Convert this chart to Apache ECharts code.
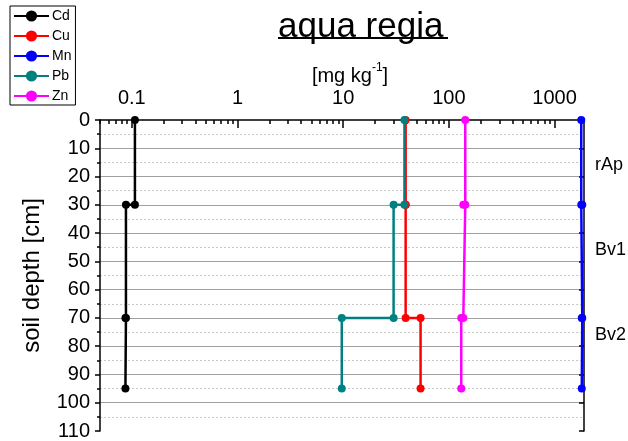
<!DOCTYPE html>
<html>
<head>
<meta charset="utf-8">
<script src="https://cdn.jsdelivr.net/npm/echarts@6/dist/echarts.min.js"></script>
<style>
  html, body { margin: 0; padding: 0; background: #fff; }
  #chart { width: 628px; height: 441px; }
</style>
</head>
<body>
<div id="chart"></div>
<script>
// Sampling depths of each profile point [cm]: top and bottom of every horizon
const depths = [0, 30, 30, 70, 70, 95];

// Element contents per horizon (rAp, Bv1, Bv2) in mg/kg, aqua regia extract
const elements = ['Cd', 'Cu', 'Mn', 'Pb', 'Zn'];
const cd = [0.107, 0.088, 0.087];
const cu = [39, 39, 54];
const mn = [1790, 1830, 1810];
const pb = [38, 30, 9.7];
const zn = [143, 137, 131];
const colors = ['#000000', '#ff0000', '#0000ff', '#008080', '#ff00ff'];

// Horizon names and the depth at which each name is printed
const horizons = ['rAp', 'Bv1', 'Bv2'];
const horizonLabelDepths = [16, 46, 76];

// Concentration axis ticks
const xMajorTicks = [0.1, 1, 10, 100, 1000];
const xTickLabels = ['0.1', '1', '10', '100', '1000'];
const xMinorTicks = [];
[0.01, 0.1, 1, 10, 100, 1000].forEach(function (d) {
  for (let k = 2; k <= 9; k++) xMinorTicks.push(d * k);
});

// Turn three horizon values into a stepped depth profile
function profile(vals) {
  return depths.map(function (d, i) {
    return [vals[Math.floor(i / 2)], d];
  });
}

const seriesValues = [cd, cu, mn, pb, zn];

const chart = echarts.init(document.getElementById('chart'), null, { renderer: 'canvas' });

const xMin = 0.05, xMax = 1900;
const font = 'Arial, "Liberation Sans", sans-serif';

const option = {
  animation: false,
  textStyle: { fontFamily: font },
  legend: {
    orient: 'vertical',
    left: 10,
    top: 6,
    padding: [3, 4, 2, 3],
    itemGap: 6,
    itemWidth: 35,
    itemHeight: 14,
    borderColor: '#000',
    borderWidth: 1,
    textStyle: { fontSize: 14, color: '#000', padding: [0, 0, 0, -2] },
    data: elements
  },
  grid: { left: 100, top: 120, right: 44, bottom: 10 },
  xAxis: [
    {
      type: 'log',
      logBase: 10,
      min: xMin,
      max: xMax,
      position: 'top',
      axisLine: { show: true, lineStyle: { color: '#000', width: 1.5 } },
      axisTick: { show: true, inside: true, length: 8, customValues: xMajorTicks, lineStyle: { color: '#000', width: 1.5 } },
      axisLabel: {
        show: true,
        customValues: xMajorTicks,
        fontSize: 20,
        color: '#000',
        margin: 12,
        formatter: function (v) {
          let best = 0;
          xMajorTicks.forEach(function (t, i) {
            if (Math.abs(Math.log10(t) - Math.log10(v)) < Math.abs(Math.log10(xMajorTicks[best]) - Math.log10(v))) best = i;
          });
          return xTickLabels[best];
        }
      },
      splitLine: { show: false }
    },
    {
      type: 'log',
      logBase: 10,
      min: xMin,
      max: xMax,
      position: 'top',
      axisLine: { show: false },
      axisTick: { show: true, inside: true, length: 4, customValues: xMinorTicks.filter(function (t) { return t >= xMin && t <= xMax; }), lineStyle: { color: '#000', width: 1.5 } },
      axisLabel: { show: false },
      splitLine: { show: false }
    }
  ],
  yAxis: [
    {
      type: 'value',
      inverse: true,
      min: 0,
      max: 110,
      interval: 10,
      name: 'soil depth [cm]',
      nameLocation: 'middle',
      nameRotate: 90,
      nameGap: 56,
      nameTextStyle: { fontSize: 24, color: '#000' },
      axisLine: { show: true, lineStyle: { color: '#000', width: 1.5 } },
      axisTick: { show: true, length: 5, lineStyle: { color: '#000', width: 1.5 } },
      minorTick: { show: true, splitNumber: 2, length: 3, lineStyle: { color: '#000', width: 1.5 } },
      axisLabel: { fontSize: 20, color: '#000', margin: 10 },
      splitLine: { show: true, showMinLine: false, showMaxLine: false, lineStyle: { color: '#a0a0a0', width: 1 } },
      minorSplitLine: { show: true, lineStyle: { color: '#c8c8c8', width: 1, type: [2, 2] } }
    },
    {
      type: 'value',
      inverse: true,
      min: 0,
      max: 110,
      interval: 10,
      position: 'right',
      axisLine: { show: true, onZero: false, lineStyle: { color: '#000', width: 1.5 } },
      axisTick: { show: true, inside: true, length: 5, lineStyle: { color: '#000', width: 1.5 } },
      axisLabel: { show: false },
      splitLine: { show: false }
    }
  ],
  series: elements.map(function (name, i) {
    return {
      name: name,
      type: 'line',
      xAxisIndex: 0,
      yAxisIndex: 0,
      data: profile(seriesValues[i]),
      color: colors[i],
      symbol: 'circle',
      symbolSize: 8,
      lineStyle: { width: 2.5, color: colors[i] },
      itemStyle: { color: colors[i] },
      clip: true
    };
  }),
  graphic: []
};

chart.setOption(option);

// Title, unit line and horizon names
const gfx = [
  {
    type: 'text',
    left: 363 - 85,
    top: 10,
    style: { text: 'aqua regia', fontSize: 35, fill: '#000', fontFamily: font }
  },
  {
    type: 'line',
    shape: { x1: 278, y1: 38, x2: 448, y2: 38 },
    style: { stroke: '#000', lineWidth: 2 }
  },
  {
    type: 'text',
    x: 350,
    y: 74,
    style: {
      text: '{a|[mg kg}{s|-1}{a|]}',
      align: 'center',
      verticalAlign: 'middle',
      fontFamily: font,
      rich: {
        a: { fontSize: 20, fill: '#000', verticalAlign: 'bottom', lineHeight: 24 },
        s: { fontSize: 12, fill: '#000', verticalAlign: 'top', lineHeight: 24 }
      }
    }
  }
];
horizons.forEach(function (h, i) {
  const y = chart.convertToPixel({ yAxisIndex: 0 }, horizonLabelDepths[i]);
  gfx.push({
    type: 'text',
    x: 595,
    y: y,
    style: { text: h, fontSize: 18, fill: '#000', verticalAlign: 'middle', fontFamily: font }
  });
});
chart.setOption({ graphic: gfx });
</script>
</body>
</html>
